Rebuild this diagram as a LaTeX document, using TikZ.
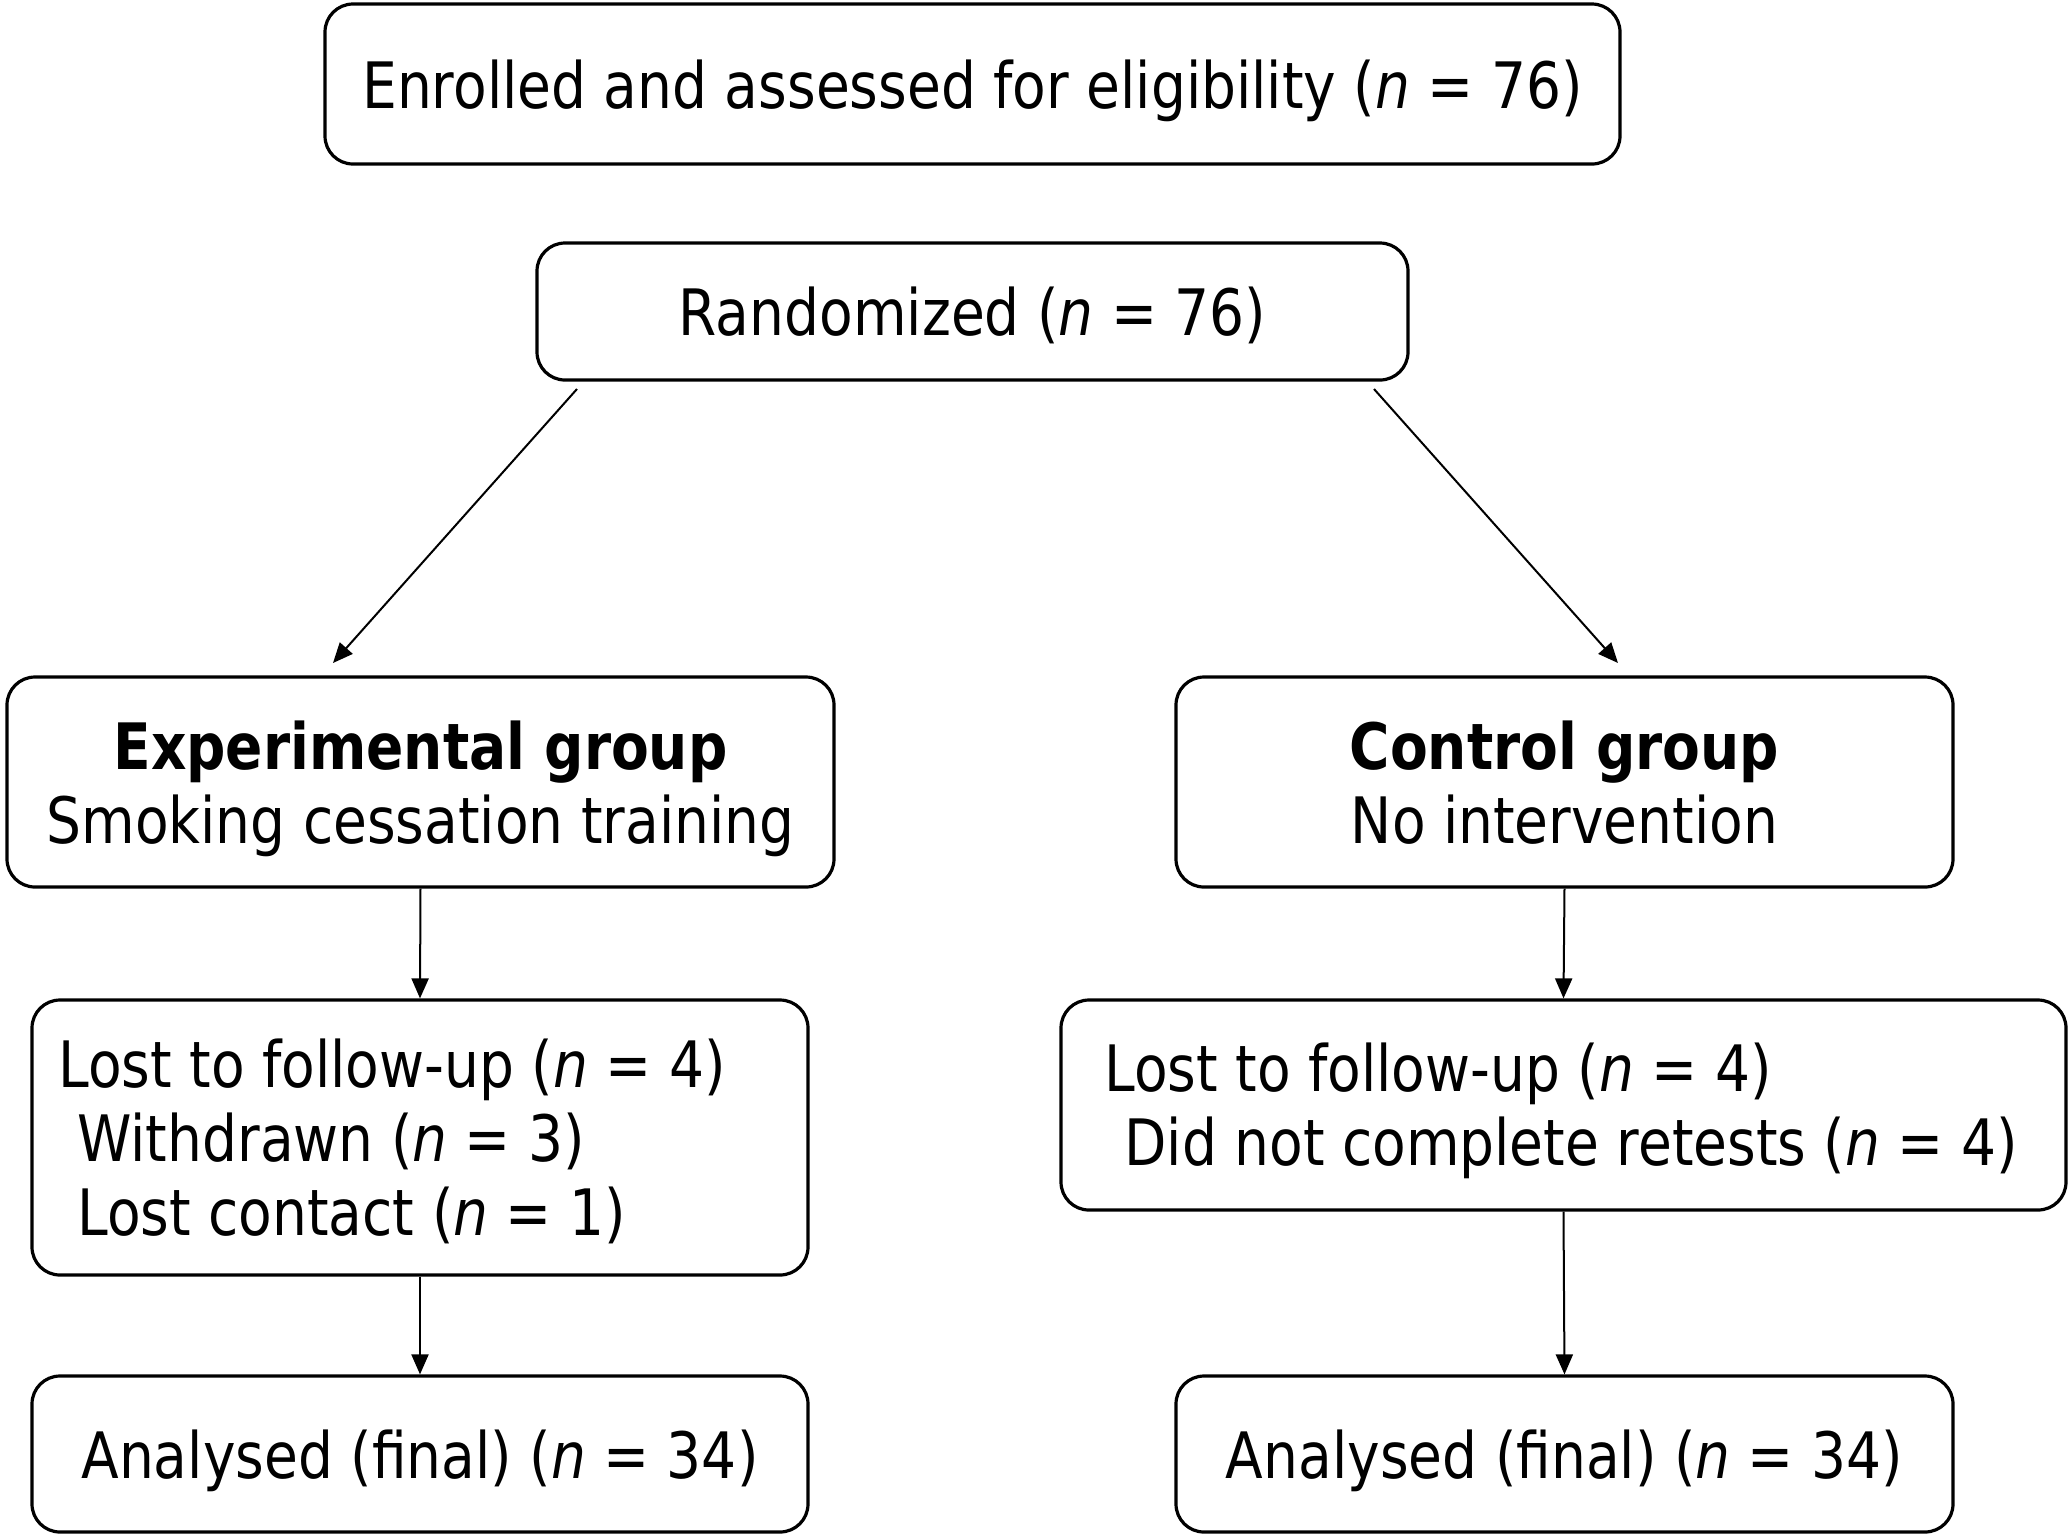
\documentclass[tikz,border=0pt]{standalone}
\usepackage{fontspec}
\setmainfont{DejaVu Sans}[FakeStretch=0.86]
\usetikzlibrary{arrows.meta}
\newcommand\fstl{\rule{0pt}{24pt}}
\begin{document}
\begin{tikzpicture}[x=0.5pt,y=-0.5pt,
  box/.style={draw, line width=1.6pt, rounded corners=14pt, inner sep=0pt, align=center, font=\fontsize{32}{37}\selectfont},
  txt/.style={inner sep=0pt, align=left, anchor=west, font=\fontsize{32}{37}\selectfont},
  arr/.style={line width=1pt, -{Triangle[length=10pt,width=8.5pt]}}]
\useasboundingbox (0,0) rectangle (2069,1539);
\node[box, minimum width=647.5pt, minimum height=80pt] (enr) at (972.5,84) {\fstl\smash{Enrolled and assessed for eligibility (\textit{n} = 76)}};
\node[box, minimum width=435.5pt, minimum height=68.5pt] (rand) at (972.5,311.5) {\fstl\smash{Randomized (\textit{n} = 76)}};
\node[box, minimum width=413.5pt, minimum height=105pt] (exp) at (420.5,782) {\fstl\textbf{Experimental group}\\\smash{Smoking cessation training}};
\node[box, minimum width=388.5pt, minimum height=105pt] (ctl) at (1564.5,782) {\fstl\textbf{Control group}\\\smash{No intervention}};
\node[box, minimum width=388pt, minimum height=137.5pt] (lostL) at (420,1137.5) {};
\node[txt] (lostLt) at (58,1137) {\fstl Lost to follow-up (\textit{n} = 4)\\\hspace*{9.5pt}Withdrawn (\textit{n} = 3)\\\smash{\hspace*{9.5pt}Lost contact (\textit{n} = 1)}};
\node[box, minimum width=502.5pt, minimum height=105pt] (lostR) at (1563.5,1105) {};
\node[txt] (lostRt) at (1104,1104) {\fstl Lost to follow-up (\textit{n} = 4)\\\smash{\hspace*{10pt}Did not complete retests (\textit{n} = 4)}};
\node[box, minimum width=388pt, minimum height=78pt] (anaL) at (420,1454) {\fstl\smash{Analysed (final) (\textit{n} = 34)}};
\node[box, minimum width=388.5pt, minimum height=78pt] (anaR) at (1564.5,1454) {\fstl\smash{Analysed (final) (\textit{n} = 34)}};
\coordinate (r1) at (577,389);
\coordinate (e1) at (333,663);
\coordinate (r2) at (1374,389);
\coordinate (c1) at (1618,663);
\draw[arr] (r1) -- (e1);
\draw[arr] (r2) -- (c1);
\draw[arr] (exp.south) -- (lostL.north);
\draw[arr] (ctl.south) -- (lostR.north);
\draw[arr] (lostL.south) -- (anaL.north);
\draw[arr] (lostR.south) -- (anaR.north);
\end{tikzpicture}
\end{document}
